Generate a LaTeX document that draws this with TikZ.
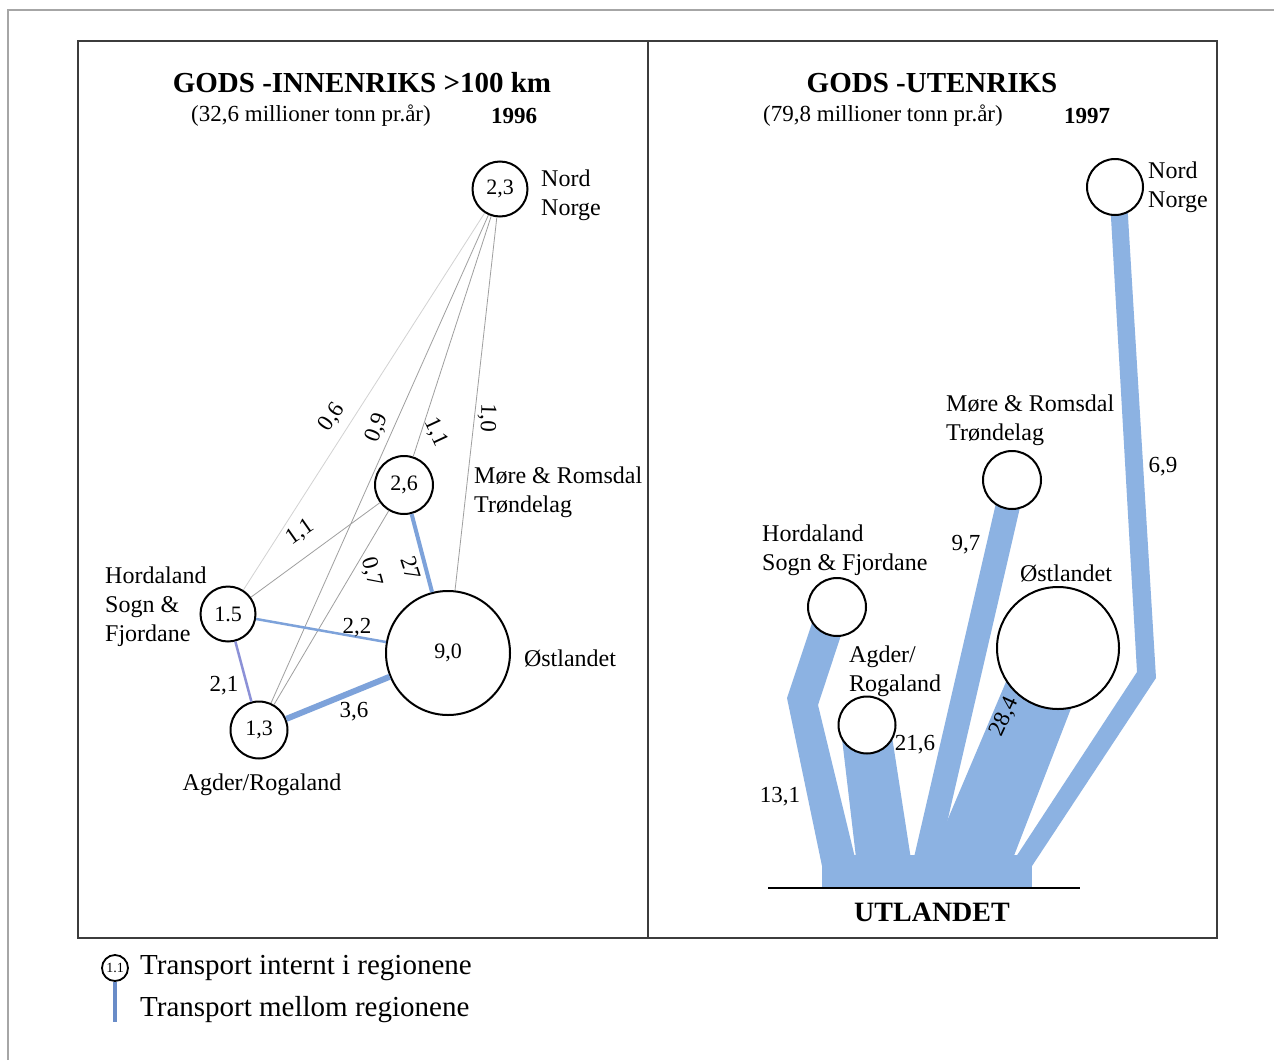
\documentclass[tikz,border=0pt]{standalone}
\usepackage{fontspec}
\setmainfont{Liberation Serif}
\newcommand{\fsz}[2]{\fontsize{#1pt}{#2pt}\selectfont}
\definecolor{flowblue}{RGB}{140,178,226}
\definecolor{lineblue}{RGB}{125,162,218}
\definecolor{linepurple}{RGB}{140,145,215}
\definecolor{legblue}{RGB}{105,140,200}
\definecolor{framegray}{RGB}{60,60,60}
\tikzset{
  reg/.style={circle, draw=black, line width=2pt, fill=white, inner sep=0pt, font=\fsz{22}{26}},
  lbl/.style={font=\fsz{24}{29}, inner sep=0pt, align=left},
  num/.style={font=\fsz{23}{27}, inner sep=0pt},
  thinline/.style={draw=gray!75, line width=0.8pt},
  faintline/.style={draw=gray!35, line width=0.8pt},
  blueline/.style={draw=lineblue, line width=#1},
  flow/.style={fill=flowblue, draw=none},
  ttl/.style={font=\fsz{29}{33}\bfseries, inner sep=0pt},
  sub/.style={font=\fsz{23}{27}, inner sep=0pt},
}
\begin{document}
\begin{tikzpicture}[x=1pt,y=-1pt]
\useasboundingbox (0,0) rectangle (1274,1060);
\fill[white] (0,0) rectangle (1274,1060);
% outer frame
\draw[gray!70, line width=1.2pt] (8,1060) -- (8,10) -- (1274,10);
% inner frame
\draw[framegray, line width=2.5pt] (78,41) rectangle (1217,938);
\draw[framegray, line width=2pt] (648,41) -- (648,938);

% titles
\node[ttl] (t1) at (362,83) {GODS -INNENRIKS >100 km};
\node[sub] (s1) at (311,116) {(32,6 millioner tonn pr.år)};
\node[sub, font=\fsz{23}{27}\bfseries] (y1) at (514,116) {1996};
\node[ttl] (t2) at (932,83) {GODS -UTENRIKS};
\node[sub] (s2) at (883,116) {(79,8 millioner tonn pr.år)};
\node[sub, font=\fsz{23}{27}\bfseries] (y2) at (1087,116) {1997};

% ---------- left panel ----------
\node[reg, minimum size=55pt] (nn) at (500,189) {2,3};
\node[reg, minimum size=58pt] (mr) at (404,485) {2,6};
\node[reg, minimum size=55pt] (hf) at (228,614) {1.5};
\node[reg, minimum size=57pt] (ar) at (259,730) {1,3};
\node[reg, minimum size=124pt] (os) at (448,653) {9,0};

\draw[faintline] (nn) -- (hf);
\draw[thinline] (nn) -- (ar);
\draw[thinline] (nn) -- (mr);
\draw[thinline] (nn) -- (os);
\draw[thinline] (mr) -- (hf);
\draw[thinline] (mr) -- (ar);
\draw[blueline=4pt] (mr) -- (os);
\draw[blueline=2.5pt, draw=lineblue] (hf) -- (os);
\draw[blueline=2.5pt, draw=linepurple] (hf) -- (ar);
\draw[blueline=6pt] (ar) -- (os);

\node[num, rotate=55] (l06) at (332,417) {0,6};
\node[num, rotate=68] (l09) at (377,428) {0,9};
\node[num, rotate=-65] (l11a) at (436,432) {1,1};
\node[num, rotate=-92] (l10) at (487,418) {1,0};
\node[num, rotate=35] (l11b) at (300,532) {1,1};
\node[num, rotate=-75] (l07) at (371,572) {0,7};
\node[num, rotate=-72] (l27) at (411,568) {27};
\node[num] (l22) at (357,628) {2,2};
\node[num] (l21) at (224,686) {2,1};
\node[num] (l36) at (354,712) {3,6};

\node[lbl, anchor=west] (lnn) at (541,195) {Nord\\Norge};
\node[lbl, anchor=west] (lmr) at (474,492) {Møre \& Romsdal\\Trøndelag};
\node[lbl, anchor=west] (lhf) at (105,607) {Hordaland\\Sogn \&\\Fjordane};
\node[lbl] (lar) at (262,785) {Agder/Rogaland};
\node[lbl] (los) at (570,658) {Østlandet};

% ---------- right panel ----------
\fill[flow] (822,855) rectangle (1032,888);
\fill[flow] (813,620) -- (846,620) -- (818,705) -- (857,866) -- (822,866) -- (787,698) -- cycle;
\fill[flow] (841,730) -- (891,730) -- (912,866) -- (857,866) -- cycle;
\fill[flow] (999,490) -- (1024,490) -- (937,866) -- (912,866) -- cycle;
\fill[flow] (1011,670) -- (1082,680) -- (1010,866) -- (928,866) -- cycle;
\fill[flow] (1110,200) -- (1127,200) -- (1156,678) -- (1032,866) -- (1010,866) -- (1137,672) -- cycle;

\node[reg, minimum size=56pt] (rnn) at (1115,187) {};
\node[reg, minimum size=58pt] (rmr) at (1012,480) {};
\node[reg, minimum size=58pt] (rhf) at (837,607) {};
\node[reg, minimum size=57pt] (rar) at (867,725) {};
\node[reg, minimum size=122pt] (ros) at (1058,648) {};

\draw[black, line width=2pt] (768,888) -- (1080,888);
\node[font=\fsz{28}{32}\bfseries, inner sep=0pt] (utl) at (932,912) {UTLANDET};

\node[lbl, anchor=west] (rlnn) at (1148,187) {Nord\\Norge};
\node[lbl, anchor=west] (rlmr) at (946,420) {Møre \& Romsdal\\Trøndelag};
\node[lbl, anchor=west] (rlhf) at (762,550) {Hordaland\\Sogn \& Fjordane};
\node[lbl, anchor=west] (rlar) at (849,671) {Agder/\\Rogaland};
\node[lbl] (rlos) at (1066,573) {Østlandet};

\node[num] (r97) at (966,545) {9,7};
\node[num] (r69) at (1163,467) {6,9};
\node[num] (r131) at (780,797) {13,1};
\node[num] (r216) at (915,745) {21,6};
\node[num, rotate=65] (r284) at (1005,717) {28,4};

% ---------- legend ----------
\node[circle, draw=black, line width=1.8pt, minimum size=26pt, inner sep=0pt, font=\fsz{14}{16}] (leg) at (115,968) {1.1};
\coordinate (legend stem end) at (115,1022);
\draw[legblue, line width=3.5pt] (leg.south) -- (legend stem end);
\node[font=\fsz{29}{33}, anchor=west, inner sep=0pt] (legt1) at (140,968) {Transport internt i regionene};
\node[font=\fsz{29}{33}, anchor=west, inner sep=0pt] (legt2) at (140,1010) {Transport mellom regionene};
\end{tikzpicture}
\end{document}
